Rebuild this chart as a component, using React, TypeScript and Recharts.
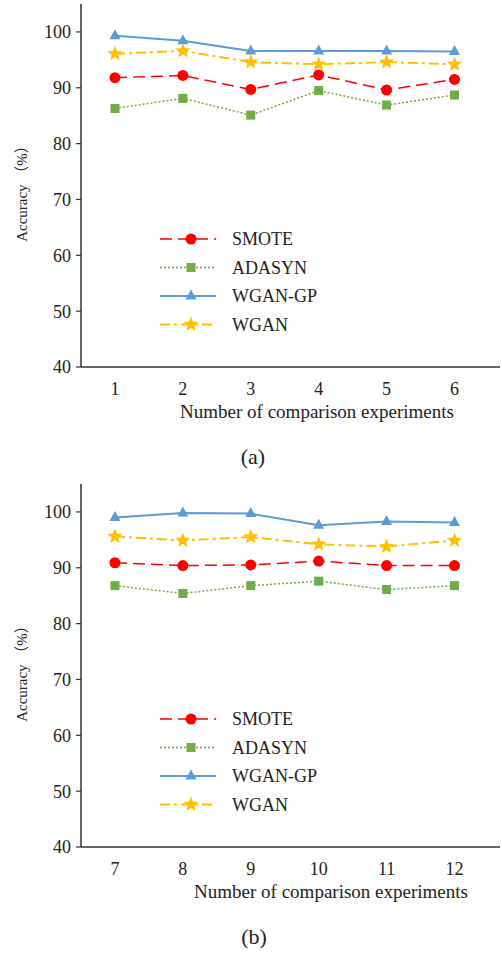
import * as React from 'react';
import { Legend, Line, LineChart, XAxis, YAxis } from 'recharts';

const FONT = '"Times New Roman", Tinos, "Liberation Serif", "DejaVu Serif", "Noto Sans CJK SC", serif';

// chart (a)
const categoriesA = [1, 2, 3, 4, 5, 6];
const smoteA = [91.8, 92.2, 89.7, 92.3, 89.6, 91.5];
const adasynA = [86.3, 88.1, 85.1, 89.5, 86.9, 88.7];
const wganGpA = [99.3, 98.4, 96.6, 96.6, 96.6, 96.5];
const wganA = [96.1, 96.6, 94.6, 94.2, 94.6, 94.2];

// chart (b)
const categoriesB = [7, 8, 9, 10, 11, 12];
const smoteB = [90.9, 90.4, 90.5, 91.2, 90.4, 90.4];
const adasynB = [86.8, 85.4, 86.8, 87.6, 86.1, 86.8];
const wganGpB = [99.0, 99.8, 99.7, 97.6, 98.3, 98.1];
const wganB = [95.6, 94.9, 95.5, 94.2, 93.8, 94.9];

const yTicks = [40, 50, 60, 70, 80, 90, 100];

const series = [
  { key: 'SMOTE', color: '#FF0000', dash: '12 6', width: 1.5, marker: 'circle' },
  { key: 'ADASYN', color: '#70AD47', dash: '2 2', width: 1.5, marker: 'square' },
  { key: 'WGAN-GP', color: '#5B9BD5', dash: undefined, width: 2, marker: 'triangle' },
  { key: 'WGAN', color: '#FFC000', dash: '10 4 3 4', width: 2, marker: 'star' },
];

function starPoints(cx: number, cy: number, ro: number, ri: number) {
  const pts: string[] = [];
  for (let i = 0; i < 10; i++) {
    const r = i % 2 === 0 ? ro : ri;
    const a = -Math.PI / 2 + (i * Math.PI) / 5;
    pts.push(`${cx + r * Math.cos(a)},${cy + r * Math.sin(a)}`);
  }
  return pts.join(' ');
}

function Marker({ type, cx, cy, color }: { type: string; cx: number; cy: number; color: string }) {
  if (cx == null || cy == null) return null;
  if (type === 'circle') return <circle cx={cx} cy={cy} r={5.5} fill={color} />;
  if (type === 'square') return <rect x={cx - 4.5} y={cy - 4.5} width={9} height={9} fill={color} />;
  if (type === 'triangle')
    return <polygon points={`${cx},${cy - 6.5} ${cx + 5.5},${cy + 3.5} ${cx - 5.5},${cy + 3.5}`} fill={color} />;
  return <polygon points={starPoints(cx, cy, 8, 3.4)} fill={color} />;
}

function renderLegend() {
  return (
    <svg width={200} height={115} style={{ display: 'block' }}>
      {series.map((s, i) => {
        const y = 14 + i * 28.5;
        return (
          <g key={s.key}>
            <line x1={10} x2={66} y1={y} y2={y} stroke={s.color} strokeWidth={s.width} strokeDasharray={s.dash} />
            <Marker type={s.marker} cx={41} cy={y} color={s.color} />
            <text x={82} y={y + 6} fontSize={18} fontFamily={FONT} fill="#222">
              {s.key}
            </text>
          </g>
        );
      })}
    </svg>
  );
}

function Panel({
  categories,
  smote,
  adasyn,
  wganGp,
  wgan,
  tag,
  titleX,
  tagX,
}: {
  categories: number[];
  smote: number[];
  adasyn: number[];
  wganGp: number[];
  wgan: number[];
  tag: string;
  titleX: number;
  tagX: number;
}) {
  const data = categories.map((x, i) => ({
    x,
    SMOTE: smote[i],
    ADASYN: adasyn[i],
    'WGAN-GP': wganGp[i],
    WGAN: wgan[i],
  }));
  const lo = categories[0] - 0.5;
  const hi = categories[categories.length - 1] + 0.67;
  const edges = categories.map((c) => c + 0.5);

  return (
    <div style={{ position: 'relative', width: 502, height: 480, fontFamily: FONT }}>
      <LineChart width={502} height={480} data={data} margin={{ top: 4, right: 2, left: 0, bottom: 83 }}>
        <XAxis
          xAxisId="edges"
          dataKey="x"
          type="number"
          domain={[lo, hi]}
          allowDataOverflow
          ticks={edges}
          interval={0}
          height={0}
          mirror
          tick={false}
          tickSize={5}
          axisLine={false}
          tickLine={{ stroke: '#333', strokeWidth: 1.2 }}
        />
        <XAxis
          dataKey="x"
          type="number"
          domain={[lo, hi]}
          allowDataOverflow
          ticks={categories}
          interval={0}
          height={30}
          tickSize={0}
          tickMargin={15}
          tickLine={false}
          axisLine={{ stroke: '#333', strokeWidth: 1.5 }}
          tick={{ fill: '#222', fontSize: 18, fontFamily: FONT }}
        />
        <YAxis
          type="number"
          domain={[40, 105]}
          allowDataOverflow
          ticks={yTicks}
          interval={0}
          width={81}
          tickSize={5}
          tickMargin={5}
          axisLine={{ stroke: '#333', strokeWidth: 1.5 }}
          tickLine={{ stroke: '#333', strokeWidth: 1.2 }}
          tick={{ fill: '#222', fontSize: 18, fontFamily: FONT }}
        />
        <Legend
          layout="vertical"
          align="center"
          verticalAlign="middle"
          content={renderLegend}
          wrapperStyle={{ left: 150, top: 225, width: 200, height: 115 }}
        />
        {series.map((s) => (
          <Line
            key={s.key}
            dataKey={s.key}
            type="linear"
            stroke={s.color}
            strokeWidth={s.width}
            strokeDasharray={s.dash}
            isAnimationActive={false}
            activeDot={false}
            dot={(p: any) => <Marker key={`${s.key}-${p.index}`} type={s.marker} cx={p.cx} cy={p.cy} color={s.color} />}
          />
        ))}
      </LineChart>
      <div
        style={{
          position: 'absolute',
          left: 22 - 80,
          top: 190 - 10,
          width: 160,
          height: 20,
          lineHeight: '20px',
          fontSize: 15,
          textAlign: 'center',
          color: '#222',
          transform: 'rotate(-90deg)',
          whiteSpace: 'nowrap',
        }}
      >
        Accuracy （%）
      </div>
      <div
        style={{
          position: 'absolute',
          left: titleX - 170,
          top: 401,
          width: 340,
          fontSize: 19,
          lineHeight: '22px',
          textAlign: 'center',
          color: '#222',
        }}
      >
        Number of comparison experiments
      </div>
      <div
        style={{
          position: 'absolute',
          left: tagX - 30,
          top: 444,
          width: 60,
          fontSize: 22,
          lineHeight: '26px',
          textAlign: 'center',
          color: '#222',
        }}
      >
        {tag}
      </div>
    </div>
  );
}

export default function App() {
  return (
    <div style={{ position: 'absolute', left: 0, top: 0, width: 502, height: 953, background: '#fff' }}>
      <Panel
        categories={categoriesA}
        smote={smoteA}
        adasyn={adasynA}
        wganGp={wganGpA}
        wgan={wganA}
        tag="(a)"
        titleX={317}
        tagX={253}
      />
      <Panel
        categories={categoriesB}
        smote={smoteB}
        adasyn={adasynB}
        wganGp={wganGpB}
        wgan={wganB}
        tag="(b)"
        titleX={331}
        tagX={254}
      />
    </div>
  );
}
